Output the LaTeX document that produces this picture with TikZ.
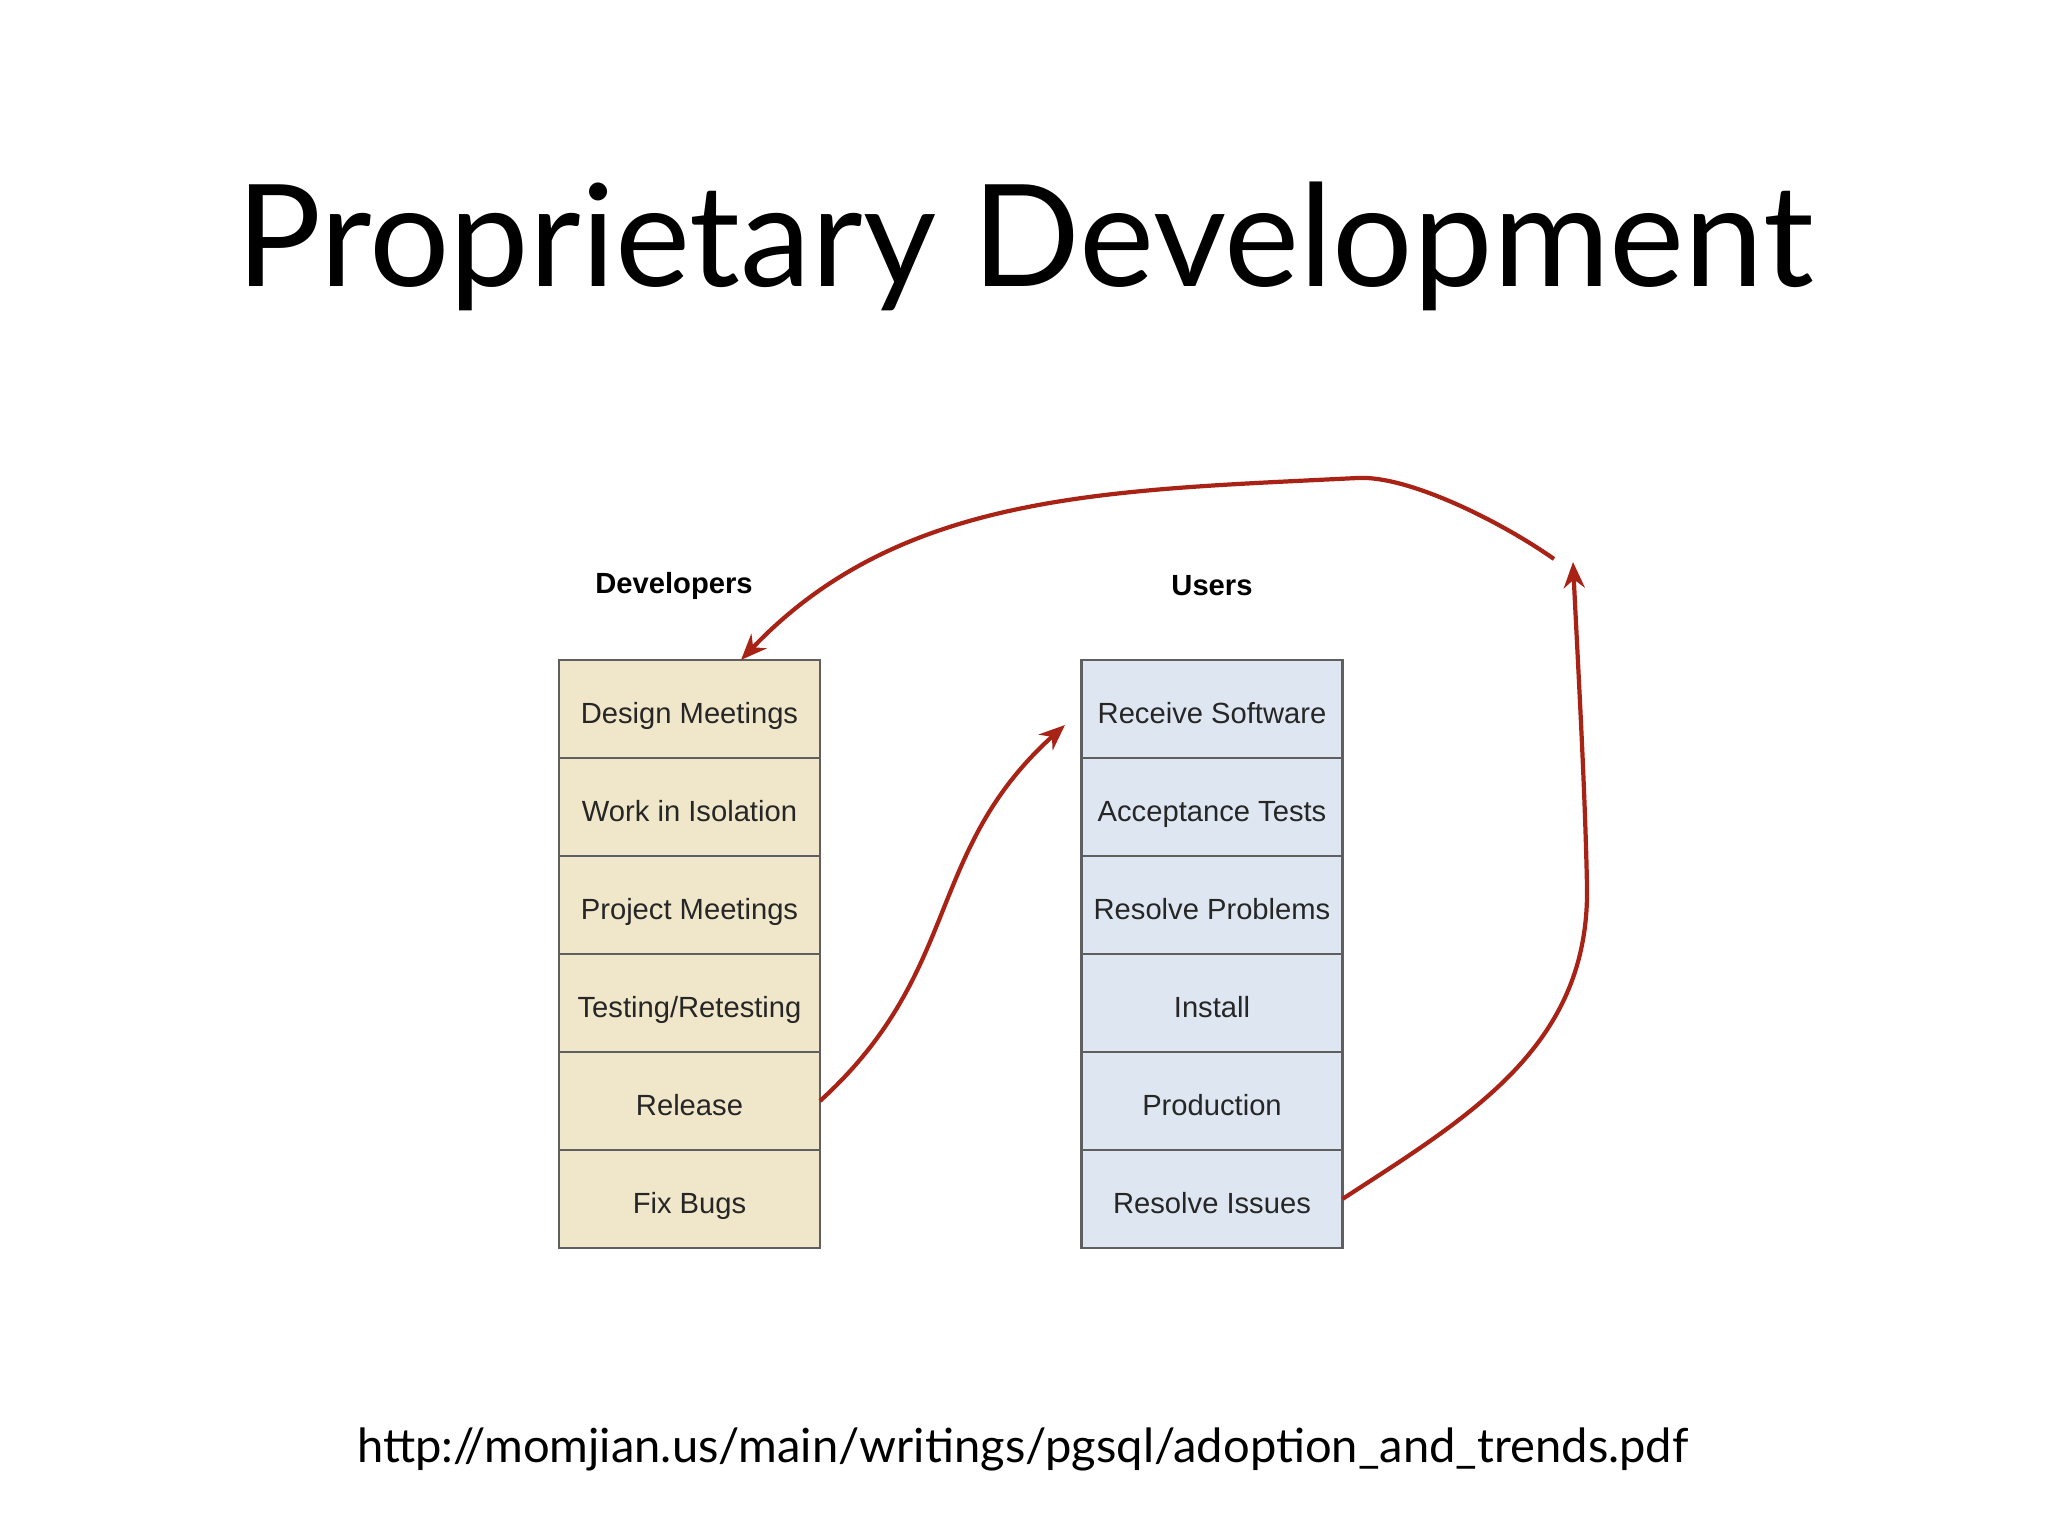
\documentclass[tikz,border=0pt]{standalone}
\usepackage{fontspec}
\setmainfont{Liberation Sans}
\newfontfamily\slidefont{Lato}
\usetikzlibrary{positioning,arrows.meta}
\definecolor{devfill}{RGB}{240,230,201}
\definecolor{userfill}{RGB}{222,231,241}
\definecolor{boxline}{RGB}{95,95,95}
\definecolor{arrowred}{RGB}{168,35,22}
\tikzset{every picture/.style={line width=0.75pt}}
\tikzset{
  stage/.style={draw=boxline, line width=0.6pt, minimum width=2.61cm, minimum height=0.98cm,
    inner sep=0pt, outer sep=0pt, text height=8.2pt, text depth=0pt,
    font=\fontsize{8.3}{10}\selectfont, text=black!85},
  dev/.style={stage, fill=devfill},
  usr/.style={stage, fill=userfill},
  colhead/.style={font=\fontsize{8.3}{10}\selectfont\bfseries},
  flow/.style={draw=arrowred, line width=1.2pt, -{Stealth[length=2.6mm,width=2.1mm]}}
}

\begin{document}
\begin{tikzpicture}
  \useasboundingbox (0,0) rectangle (20.48,15.36);
  \node[anchor=base, font=\slidefont\fontsize{40.4}{48}\selectfont] (title) at (10.25,12.49) {Proprietary Development};

  % developers
  \node[colhead] (devhead) at (6.74,9.5) {Developers};
  \node[dev] (design) at (6.895,8.27) {Design Meetings};
  \node[dev, below=0pt of design] (isolation) {Work in Isolation};
  \node[dev, below=0pt of isolation] (project) {Project Meetings};
  \node[dev, below=0pt of project] (testing) {Testing/Retesting};
  \node[dev, below=0pt of testing] (release) {Release};
  \node[dev, below=0pt of release] (bugs) {Fix Bugs};

  % users
  \node[colhead] (userhead) at (12.12,9.5) {Users};
  \node[usr] (receive) at (12.12,8.27) {Receive Software};
  \node[usr, below=0pt of receive] (acceptance) {Acceptance Tests};
  \node[usr, below=0pt of acceptance] (problems) {Resolve Problems};
  \node[usr, below=0pt of problems] (install) {Install};
  \node[usr, below=0pt of install] (production) {Production};
  \node[usr, below=0pt of production] (issues) {Resolve Issues};

  \coordinate (toreceive) at (10.65,8.11);
  \coordinate (backup) at (15.73,9.74);
  \coordinate (loopstart) at (15.54,9.77);
  \coordinate (looptop) at (13.58,10.58);
  \draw[flow] (release.east) .. controls (9.63,5.65) and (9.24,6.84) .. (toreceive);
  \draw[flow] (issues.east) .. controls (14.7,4.2) and (15.9,4.9) .. (15.87,6.5)
    .. controls (15.85,7.5) and (15.78,8.7) .. (backup);
  \draw[flow] (loopstart) .. controls (15.0,10.15) and (14.08,10.605) .. (looptop)
    .. controls (11.08,10.455) and (9.01,10.44) .. ([xshift=-0.79cm]design.north east);

  \node[anchor=base, font=\slidefont\fontsize{13.4}{16}\selectfont] (source) at (10.23,0.73)
    {http://momjian.us/main/writings/pgsql/adoption\_and\_trends.pdf};
\end{tikzpicture}
\end{document}
